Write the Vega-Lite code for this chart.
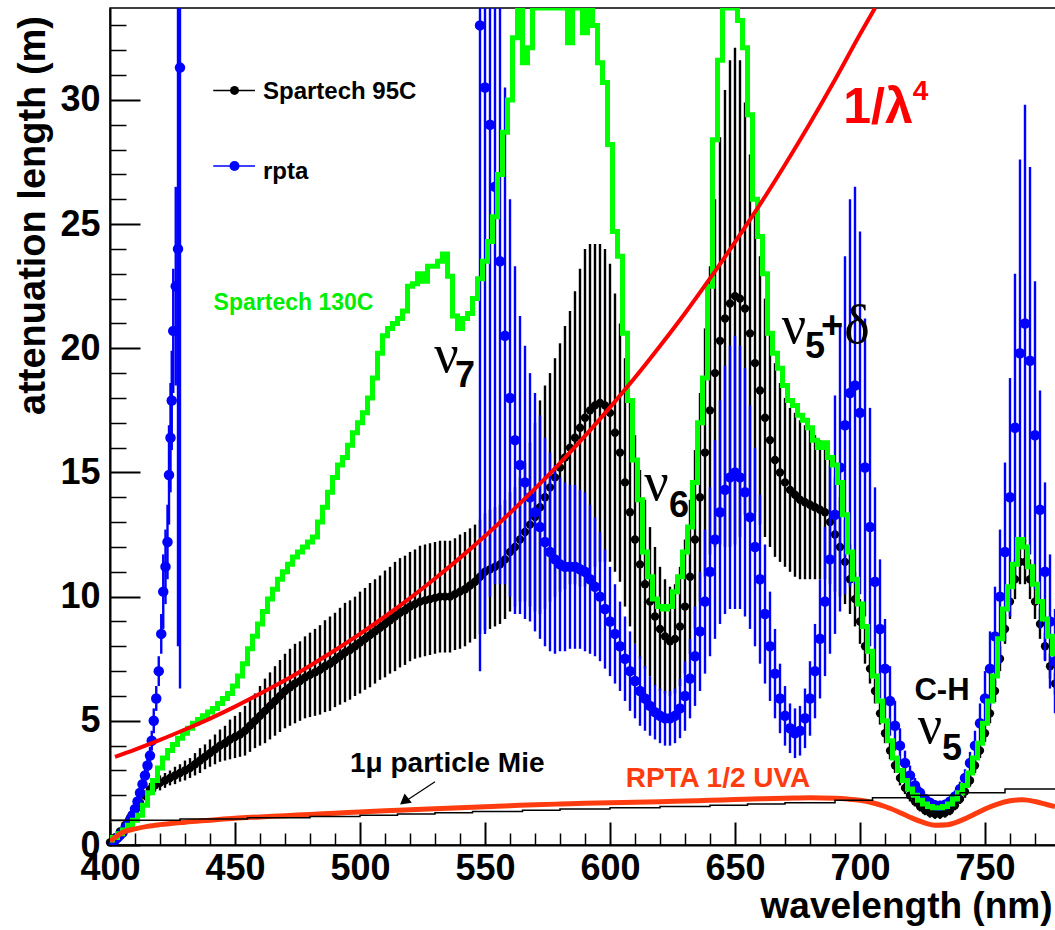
{
  "$schema": "https://vega.github.io/schema/vega-lite/v6.json",
  "width": 947,
  "height": 837,
  "autosize": {"type": "none"},
  "padding": {"left": 110, "top": 8, "right": 0, "bottom": 85},
  "background": "white",
  "config": {"view": {"stroke": "#000000", "strokeWidth": 1.5}, "font": "Liberation Sans"},
  "datasets": {
    "black": [
      {"w":400,"v":0.1,"e":0.05},{"w":402,"v":0.3,"e":0.05},{"w":404,"v":0.55,"e":0.1},{"w":406,"v":0.8,"e":0.1},{"w":408,"v":1.1,"e":0.15},{"w":410,"v":1.4,"e":0.15},
      {"w":412,"v":1.7,"e":0.2},{"w":414,"v":2.0,"e":0.2},{"w":416,"v":2.25,"e":0.25},{"w":418,"v":2.4,"e":0.25},{"w":420,"v":2.5,"e":0.3},{"w":422,"v":2.6,"e":0.3},
      {"w":424,"v":2.7,"e":0.3},{"w":426,"v":2.8,"e":0.35},{"w":428,"v":2.9,"e":0.35},{"w":430,"v":3.0,"e":0.4},{"w":432,"v":3.1,"e":0.4},{"w":434,"v":3.25,"e":0.45},
      {"w":436,"v":3.4,"e":0.5},{"w":438,"v":3.55,"e":0.5},{"w":440,"v":3.7,"e":0.55},{"w":442,"v":3.85,"e":0.6},{"w":444,"v":4.0,"e":0.65},{"w":446,"v":4.1,"e":0.7},
      {"w":448,"v":4.25,"e":0.8},{"w":450,"v":4.35,"e":0.85},{"w":452,"v":4.45,"e":0.9},{"w":454,"v":4.6,"e":1.0},{"w":456,"v":4.8,"e":1.05},{"w":458,"v":5.0,"e":1.1},
      {"w":460,"v":5.2,"e":1.2},{"w":462,"v":5.4,"e":1.3},{"w":464,"v":5.6,"e":1.35},{"w":466,"v":5.8,"e":1.4},{"w":468,"v":6.0,"e":1.45},{"w":470,"v":6.2,"e":1.5},
      {"w":472,"v":6.35,"e":1.55},{"w":474,"v":6.5,"e":1.6},{"w":476,"v":6.6,"e":1.6},{"w":478,"v":6.75,"e":1.65},{"w":480,"v":6.85,"e":1.7},{"w":482,"v":6.95,"e":1.75},
      {"w":484,"v":7.05,"e":1.8},{"w":486,"v":7.2,"e":1.85},{"w":488,"v":7.3,"e":1.9},{"w":490,"v":7.45,"e":1.9},{"w":492,"v":7.6,"e":1.95},{"w":494,"v":7.75,"e":2.0},
      {"w":496,"v":7.85,"e":2.0},{"w":498,"v":8.0,"e":2.0},{"w":500,"v":8.15,"e":2.05},{"w":502,"v":8.3,"e":2.05},{"w":504,"v":8.45,"e":2.1},{"w":506,"v":8.6,"e":2.1},
      {"w":508,"v":8.75,"e":2.1},{"w":510,"v":8.9,"e":2.15},{"w":512,"v":9.05,"e":2.15},{"w":514,"v":9.2,"e":2.2},{"w":516,"v":9.35,"e":2.2},{"w":518,"v":9.45,"e":2.2},
      {"w":520,"v":9.6,"e":2.2},{"w":522,"v":9.7,"e":2.2},{"w":524,"v":9.8,"e":2.25},{"w":526,"v":9.85,"e":2.25},{"w":528,"v":9.9,"e":2.25},{"w":530,"v":9.95,"e":2.25},
      {"w":532,"v":10.0,"e":2.25},{"w":534,"v":10.0,"e":2.25},{"w":536,"v":10.0,"e":2.25},{"w":538,"v":10.1,"e":2.25},{"w":540,"v":10.2,"e":2.3},{"w":542,"v":10.3,"e":2.3},
      {"w":544,"v":10.45,"e":2.3},{"w":546,"v":10.6,"e":2.3},{"w":548,"v":10.8,"e":2.3},{"w":550,"v":11.0,"e":2.35},{"w":552,"v":11.1,"e":2.4},{"w":554,"v":11.2,"e":2.4},
      {"w":556,"v":11.3,"e":2.4},{"w":558,"v":11.5,"e":2.4},{"w":560,"v":11.8,"e":2.4},{"w":562,"v":12.0,"e":2.4},{"w":564,"v":12.3,"e":2.5},{"w":566,"v":12.6,"e":2.8},
      {"w":568,"v":12.9,"e":3.3},{"w":570,"v":13.2,"e":3.8},{"w":572,"v":13.6,"e":4.3},{"w":574,"v":14.0,"e":4.5},{"w":576,"v":14.4,"e":4.6},{"w":578,"v":14.8,"e":4.8},
      {"w":580,"v":15.2,"e":5.0},{"w":582,"v":15.6,"e":5.3},{"w":584,"v":16.0,"e":5.5},{"w":586,"v":16.4,"e":5.9},{"w":588,"v":16.8,"e":6.4},{"w":590,"v":17.2,"e":6.8},
      {"w":592,"v":17.5,"e":6.7},{"w":594,"v":17.7,"e":6.5},{"w":596,"v":17.8,"e":6.4},{"w":598,"v":17.7,"e":6.3},{"w":600,"v":17.4,"e":6.0},{"w":602,"v":16.6,"e":5.6},
      {"w":604,"v":15.8,"e":5.2},{"w":606,"v":14.6,"e":5.0},{"w":608,"v":13.4,"e":4.6},{"w":610,"v":12.3,"e":4.2},{"w":612,"v":11.3,"e":3.8},{"w":614,"v":10.5,"e":3.4},
      {"w":616,"v":9.8,"e":3.0},{"w":618,"v":9.2,"e":2.8},{"w":620,"v":8.7,"e":2.5},{"w":622,"v":8.4,"e":2.3},{"w":624,"v":8.2,"e":2.2},{"w":626,"v":8.3,"e":2.2},
      {"w":628,"v":8.8,"e":2.4},{"w":630,"v":9.6,"e":2.7},{"w":632,"v":10.8,"e":3.1},{"w":634,"v":12.3,"e":3.6},{"w":636,"v":14.0,"e":4.2},{"w":638,"v":15.8,"e":5.0},
      {"w":640,"v":17.5,"e":5.8},{"w":642,"v":19.0,"e":7.0},{"w":644,"v":20.3,"e":8.2},{"w":646,"v":21.2,"e":9.2},{"w":648,"v":21.8,"e":9.8},{"w":650,"v":22.1,"e":10.0},
      {"w":652,"v":22.0,"e":9.6},{"w":654,"v":21.6,"e":8.3},{"w":656,"v":20.6,"e":7.2},{"w":658,"v":19.4,"e":6.0},{"w":660,"v":18.3,"e":5.4},{"w":662,"v":17.2,"e":4.8},
      {"w":664,"v":16.3,"e":4.3},{"w":666,"v":15.5,"e":3.9},{"w":668,"v":15.0,"e":3.6},{"w":670,"v":14.6,"e":3.4},{"w":672,"v":14.3,"e":3.3},{"w":674,"v":14.1,"e":3.3},
      {"w":676,"v":13.9,"e":3.2},{"w":678,"v":13.8,"e":3.1},{"w":680,"v":13.7,"e":3.0},{"w":682,"v":13.6,"e":2.9},{"w":684,"v":13.5,"e":2.8},{"w":686,"v":13.4,"e":2.7},
      {"w":688,"v":13.0,"e":2.5},{"w":690,"v":12.5,"e":2.3},{"w":692,"v":12.0,"e":2.0},{"w":694,"v":11.4,"e":1.7},{"w":696,"v":10.7,"e":1.4},{"w":698,"v":9.9,"e":1.1},
      {"w":700,"v":9.0,"e":0.9},{"w":702,"v":8.0,"e":0.7},{"w":704,"v":7.1,"e":0.6},{"w":706,"v":6.2,"e":0.5},{"w":708,"v":5.3,"e":0.45},{"w":710,"v":4.5,"e":0.4},
      {"w":712,"v":3.8,"e":0.35},{"w":714,"v":3.2,"e":0.3},{"w":716,"v":2.7,"e":0.3},{"w":718,"v":2.3,"e":0.25},{"w":720,"v":2.0,"e":0.25},{"w":722,"v":1.75,"e":0.2},
      {"w":724,"v":1.55,"e":0.2},{"w":726,"v":1.4,"e":0.2},{"w":728,"v":1.3,"e":0.2},{"w":730,"v":1.25,"e":0.2},{"w":732,"v":1.25,"e":0.2},{"w":734,"v":1.3,"e":0.2},
      {"w":736,"v":1.4,"e":0.2},{"w":738,"v":1.6,"e":0.2},{"w":740,"v":1.85,"e":0.2},{"w":742,"v":2.15,"e":0.25},{"w":744,"v":2.6,"e":0.25},{"w":746,"v":3.2,"e":0.3},
      {"w":748,"v":3.8,"e":0.3},{"w":750,"v":4.5,"e":0.35},{"w":752,"v":5.3,"e":0.4},{"w":754,"v":6.2,"e":0.45},{"w":756,"v":7.5,"e":0.5},{"w":758,"v":8.7,"e":0.6},
      {"w":760,"v":9.8,"e":0.7},{"w":762,"v":10.7,"e":0.8},{"w":764,"v":11.4,"e":0.9},{"w":766,"v":11.4,"e":0.9},{"w":768,"v":10.7,"e":0.8},{"w":770,"v":9.8,"e":0.7},
      {"w":772,"v":8.9,"e":0.6},{"w":774,"v":8.0,"e":0.55},{"w":776,"v":7.2,"e":0.5},{"w":778,"v":6.5,"e":0.45}
    ],
    "blue": [
      {"w":400,"v":0.0,"e":0.1},{"w":401,"v":0.1,"e":0.1},{"w":402,"v":0.2,"e":0.1},{"w":403,"v":0.3,"e":0.1},{"w":404,"v":0.4,"e":0.1},{"w":405,"v":0.5,"e":0.1},
      {"w":406,"v":0.65,"e":0.15},{"w":407,"v":0.8,"e":0.15},{"w":408,"v":1.0,"e":0.15},{"w":409,"v":1.2,"e":0.2},{"w":410,"v":1.45,"e":0.2},{"w":411,"v":1.75,"e":0.2},
      {"w":412,"v":2.1,"e":0.25},{"w":413,"v":2.45,"e":0.25},{"w":414,"v":2.8,"e":0.3},{"w":415,"v":3.2,"e":0.3},{"w":416,"v":3.6,"e":0.35},{"w":416.7,"v":4.2,"e":0.4},
      {"w":417.5,"v":5.0,"e":0.5},{"w":418.5,"v":5.9,"e":0.5},{"w":419.5,"v":7.0,"e":0.6},{"w":420.5,"v":8.5,"e":0.8},{"w":421.3,"v":10.2,"e":1.5},{"w":422.2,"v":11.2,"e":1.5},
      {"w":423,"v":12.2,"e":1.5},{"w":423.6,"v":14.9,"e":2.0},{"w":424.2,"v":16.4,"e":2.2},{"w":424.7,"v":17.9,"e":2.0},{"w":425.3,"v":20.7,"e":2.5},{"w":426.3,"v":22.5,"e":4},
      {"w":427.2,"v":24.0,"e":16},{"w":428,"v":31.3,"e":25},
      {"w":548,"v":33.0,"e":26},{"w":550,"v":30.5,"e":22},{"w":552,"v":29.0,"e":19},{"w":554,"v":26.5,"e":16},{"w":556,"v":23.5,"e":13},{"w":558,"v":20.5,"e":10},
      {"w":560,"v":18.0,"e":8},{"w":562,"v":16.3,"e":7},{"w":564,"v":15.3,"e":6},{"w":566,"v":14.6,"e":5.5},{"w":568,"v":14.0,"e":5},{"w":570,"v":13.4,"e":4.8},
      {"w":572,"v":12.8,"e":4.5},{"w":574,"v":12.2,"e":4.2},{"w":576,"v":11.8,"e":4},{"w":578,"v":11.5,"e":3.8},{"w":580,"v":11.3,"e":3.5},{"w":582,"v":11.2,"e":3.4},
      {"w":584,"v":11.2,"e":3.3},{"w":586,"v":11.2,"e":3.3},{"w":588,"v":11.1,"e":3.2},{"w":590,"v":11.0,"e":3.2},{"w":592,"v":10.7,"e":3.0},{"w":594,"v":10.4,"e":2.8},
      {"w":596,"v":10.0,"e":2.6},{"w":598,"v":9.5,"e":2.4},{"w":600,"v":9.0,"e":2.2},{"w":602,"v":8.5,"e":2.0},{"w":604,"v":8.0,"e":1.8},{"w":606,"v":7.5,"e":1.7},
      {"w":608,"v":7.0,"e":1.6},{"w":610,"v":6.6,"e":1.5},{"w":612,"v":6.2,"e":1.4},{"w":614,"v":5.9,"e":1.3},{"w":616,"v":5.6,"e":1.2},{"w":618,"v":5.35,"e":1.1},
      {"w":620,"v":5.2,"e":1.1},{"w":622,"v":5.1,"e":1.1},{"w":624,"v":5.1,"e":1.1},{"w":626,"v":5.2,"e":1.1},{"w":628,"v":5.5,"e":1.2},{"w":630,"v":6.0,"e":1.4},
      {"w":632,"v":6.7,"e":1.6},{"w":634,"v":7.6,"e":2.0},{"w":636,"v":8.6,"e":2.4},{"w":638,"v":9.8,"e":2.9},{"w":640,"v":11.0,"e":3.4},{"w":642,"v":12.3,"e":4},
      {"w":644,"v":13.4,"e":4.5},{"w":646,"v":14.3,"e":5},{"w":648,"v":14.8,"e":5.3},{"w":650,"v":15.0,"e":5.5},{"w":652,"v":14.8,"e":5.3},{"w":654,"v":14.2,"e":5},
      {"w":656,"v":13.2,"e":4.5},{"w":658,"v":12.0,"e":4},{"w":660,"v":10.7,"e":3.4},{"w":662,"v":9.3,"e":2.8},{"w":664,"v":8.0,"e":2.2},{"w":666,"v":6.9,"e":1.8},
      {"w":668,"v":5.9,"e":1.4},{"w":670,"v":5.2,"e":1.2},{"w":672,"v":4.7,"e":1.0},{"w":674,"v":4.5,"e":1.0},{"w":676,"v":4.6,"e":1.0},{"w":678,"v":5.1,"e":1.2},
      {"w":680,"v":5.9,"e":1.5},{"w":682,"v":7.0,"e":1.9},{"w":684,"v":8.3,"e":2.4},{"w":686,"v":9.8,"e":3.0},{"w":688,"v":11.5,"e":3.8},{"w":690,"v":13.3,"e":4.8},
      {"w":692,"v":15.2,"e":5.8},{"w":694,"v":16.9,"e":6.8},{"w":696,"v":18.2,"e":7.8},{"w":698,"v":18.5,"e":8.0},{"w":700,"v":17.4,"e":7.3},{"w":702,"v":15.2,"e":6},
      {"w":704,"v":12.8,"e":4.8},{"w":706,"v":10.6,"e":3.8},{"w":708,"v":8.7,"e":2.8},{"w":710,"v":7.1,"e":2.0},{"w":712,"v":5.8,"e":1.4},{"w":714,"v":4.8,"e":1.0},
      {"w":716,"v":4.0,"e":0.7},{"w":718,"v":3.3,"e":0.5},{"w":720,"v":2.8,"e":0.4},{"w":722,"v":2.4,"e":0.3},{"w":724,"v":2.1,"e":0.25},{"w":726,"v":1.85,"e":0.2},
      {"w":728,"v":1.7,"e":0.2},{"w":730,"v":1.6,"e":0.2},{"w":732,"v":1.58,"e":0.2},{"w":734,"v":1.62,"e":0.2},{"w":736,"v":1.75,"e":0.2},{"w":738,"v":1.95,"e":0.25},
      {"w":740,"v":2.25,"e":0.3},{"w":742,"v":2.7,"e":0.35},{"w":744,"v":3.3,"e":0.45},{"w":746,"v":4.0,"e":0.6},{"w":748,"v":4.9,"e":0.8},{"w":750,"v":5.9,"e":1.1},
      {"w":752,"v":7.1,"e":1.5},{"w":754,"v":8.4,"e":2.0},{"w":756,"v":10.0,"e":2.7},{"w":758,"v":11.8,"e":3.6},{"w":760,"v":14.0,"e":4.8},{"w":762,"v":16.8,"e":6.2},
      {"w":764,"v":19.8,"e":7.8},{"w":766,"v":21.0,"e":8.8},{"w":768,"v":19.5,"e":7.8},{"w":770,"v":16.5,"e":6.2},{"w":772,"v":13.5,"e":4.8},{"w":774,"v":11.0,"e":3.6},
      {"w":776,"v":9.0,"e":2.7},{"w":778,"v":7.4,"e":2.1}
    ],
    "green": [
      {"w":400,"v":0.2},{"w":402,"v":0.3},{"w":404,"v":0.45},{"w":406,"v":0.6},{"w":408,"v":0.8},{"w":410,"v":1.0},{"w":412,"v":1.2},{"w":414,"v":1.6},
      {"w":416,"v":2.1},{"w":418,"v":2.6},{"w":420,"v":3.1},{"w":422,"v":3.5},{"w":424,"v":3.8},{"w":426,"v":4.05},{"w":428,"v":4.3},{"w":430,"v":4.5},
      {"w":432,"v":4.7},{"w":434,"v":4.9},{"w":436,"v":5.05},{"w":438,"v":5.2},{"w":440,"v":5.35},{"w":442,"v":5.5},{"w":444,"v":5.7},{"w":446,"v":5.9},
      {"w":448,"v":6.1},{"w":450,"v":6.4},{"w":452,"v":6.8},{"w":454,"v":7.3},{"w":456,"v":7.9},{"w":458,"v":8.4},{"w":460,"v":8.9},{"w":462,"v":9.4},
      {"w":464,"v":9.9},{"w":466,"v":10.3},{"w":468,"v":10.7},{"w":470,"v":11.0},{"w":472,"v":11.3},{"w":474,"v":11.6},{"w":476,"v":11.8},{"w":478,"v":12.0},
      {"w":480,"v":12.2},{"w":482,"v":12.4},{"w":484,"v":13.0},{"w":486,"v":13.6},{"w":488,"v":14.2},{"w":490,"v":14.8},{"w":492,"v":15.3},{"w":494,"v":15.6},
      {"w":496,"v":16.1},{"w":498,"v":16.6},{"w":500,"v":17.0},{"w":502,"v":17.4},{"w":504,"v":18.0},{"w":506,"v":18.8},{"w":508,"v":19.8},{"w":510,"v":20.5},
      {"w":512,"v":20.8},{"w":514,"v":21.0},{"w":516,"v":21.2},{"w":518,"v":21.5},{"w":520,"v":22.5},{"w":522,"v":22.6},{"w":524,"v":23.0},{"w":526,"v":22.7},
      {"w":528,"v":23.3},{"w":530,"v":23.3},{"w":532,"v":23.5},{"w":534,"v":23.8},{"w":536,"v":22.9},{"w":538,"v":21.3},{"w":540,"v":20.8},{"w":542,"v":21.2},
      {"w":544,"v":21.4},{"w":546,"v":22.0},{"w":548,"v":22.8},{"w":550,"v":23.5},{"w":552,"v":24.3},{"w":554,"v":25.3},{"w":556,"v":27.0},{"w":558,"v":28.7},
      {"w":560,"v":30.0},{"w":562,"v":32.5},{"w":564,"v":35},{"w":566,"v":31.5},{"w":568,"v":32.1},{"w":570,"v":35},{"w":572,"v":35},{"w":574,"v":35},
      {"w":576,"v":35},{"w":578,"v":35},{"w":580,"v":35},{"w":582,"v":35},{"w":584,"v":32.3},{"w":586,"v":35},{"w":588,"v":35},{"w":590,"v":32.7},
      {"w":592,"v":35},{"w":594,"v":33.0},{"w":596,"v":31.5},{"w":598,"v":30.7},{"w":600,"v":28.2},{"w":602,"v":24.7},{"w":604,"v":23.7},{"w":606,"v":20.6},
      {"w":608,"v":17.9},{"w":610,"v":15.5},{"w":612,"v":13.9},{"w":614,"v":11.8},{"w":616,"v":10.8},{"w":618,"v":9.9},{"w":620,"v":9.6},{"w":622,"v":9.5},
      {"w":624,"v":9.6},{"w":626,"v":10.2},{"w":628,"v":10.8},{"w":630,"v":11.8},{"w":632,"v":12.8},{"w":634,"v":14.6},{"w":636,"v":17.0},{"w":638,"v":18.8},
      {"w":640,"v":22.5},{"w":642,"v":28.4},{"w":644,"v":31.6},{"w":646,"v":35},{"w":648,"v":35},{"w":650,"v":35},{"w":652,"v":33.2},{"w":654,"v":32.1},
      {"w":656,"v":29.4},{"w":658,"v":26.0},{"w":660,"v":24.5},{"w":662,"v":23.0},{"w":664,"v":20.6},{"w":666,"v":19.8},{"w":668,"v":19.2},{"w":670,"v":18.5},
      {"w":672,"v":17.9},{"w":674,"v":17.7},{"w":676,"v":17.3},{"w":678,"v":17.1},{"w":680,"v":16.8},{"w":682,"v":16.3},{"w":684,"v":16.0},{"w":686,"v":16.2},
      {"w":688,"v":15.6},{"w":690,"v":15.3},{"w":692,"v":14.6},{"w":694,"v":13.3},{"w":696,"v":11.8},{"w":698,"v":10.7},{"w":700,"v":9.7},{"w":702,"v":8.8},
      {"w":704,"v":7.8},{"w":706,"v":6.8},{"w":708,"v":5.8},{"w":710,"v":5.0},{"w":712,"v":4.2},{"w":714,"v":3.5},{"w":716,"v":3.0},{"w":718,"v":2.6},
      {"w":720,"v":2.25},{"w":722,"v":2.0},{"w":724,"v":1.8},{"w":726,"v":1.65},{"w":728,"v":1.55},{"w":730,"v":1.5},{"w":732,"v":1.5},{"w":734,"v":1.55},
      {"w":736,"v":1.65},{"w":738,"v":1.85},{"w":740,"v":2.1},{"w":742,"v":2.4},{"w":744,"v":2.9},{"w":746,"v":3.5},{"w":748,"v":4.1},{"w":750,"v":4.9},
      {"w":752,"v":5.8},{"w":754,"v":6.8},{"w":756,"v":8.3},{"w":758,"v":9.5},{"w":760,"v":10.4},{"w":762,"v":11.3},{"w":764,"v":12.3},{"w":766,"v":12.0},
      {"w":768,"v":11.2},{"w":770,"v":10.5},{"w":772,"v":9.8},{"w":774,"v":9.1},{"w":776,"v":8.4},{"w":778,"v":7.7}
    ],
    "red": [
      {"w":402,"v":3.55},{"w":410,"v":3.84},{"w":420,"v":4.23},{"w":430,"v":4.65},{"w":440,"v":5.09},{"w":450,"v":5.57},{"w":460,"v":6.09},{"w":470,"v":6.63},
      {"w":480,"v":7.22},{"w":490,"v":7.84},{"w":500,"v":8.5},{"w":510,"v":9.2},{"w":520,"v":9.94},{"w":530,"v":10.73},{"w":540,"v":11.56},{"w":550,"v":12.44},
      {"w":560,"v":13.37},{"w":570,"v":14.35},{"w":580,"v":15.38},{"w":590,"v":16.47},{"w":600,"v":17.62},{"w":610,"v":18.82},{"w":620,"v":20.09},{"w":630,"v":21.41},
      {"w":640,"v":22.81},{"w":650,"v":24.27},{"w":660,"v":25.79},{"w":670,"v":27.39},{"w":680,"v":29.06},{"w":690,"v":30.81},{"w":700,"v":32.64},{"w":706,"v":33.77}
    ],
    "orange": [
      {"w":400,"v":0.15},{"w":402,"v":0.3},{"w":404,"v":0.45},{"w":406,"v":0.55},{"w":410,"v":0.65},{"w":415,"v":0.75},{"w":420,"v":0.82},{"w":430,"v":0.92},
      {"w":440,"v":1.0},{"w":450,"v":1.08},{"w":460,"v":1.13},{"w":470,"v":1.18},{"w":480,"v":1.23},{"w":490,"v":1.28},{"w":500,"v":1.33},{"w":510,"v":1.38},
      {"w":520,"v":1.42},{"w":530,"v":1.46},{"w":540,"v":1.5},{"w":550,"v":1.54},{"w":560,"v":1.58},{"w":570,"v":1.62},{"w":580,"v":1.65},{"w":590,"v":1.68},
      {"w":600,"v":1.7},{"w":610,"v":1.72},{"w":620,"v":1.74},{"w":630,"v":1.77},{"w":640,"v":1.8},{"w":650,"v":1.83},{"w":660,"v":1.86},{"w":670,"v":1.88},
      {"w":680,"v":1.9},{"w":690,"v":1.88},{"w":695,"v":1.85},{"w":700,"v":1.8},{"w":705,"v":1.7},{"w":710,"v":1.55},{"w":715,"v":1.35},{"w":720,"v":1.12},
      {"w":725,"v":0.92},{"w":730,"v":0.8},{"w":735,"v":0.82},{"w":740,"v":0.97},{"w":745,"v":1.2},{"w":750,"v":1.45},{"w":755,"v":1.65},{"w":760,"v":1.78},
      {"w":765,"v":1.82},{"w":770,"v":1.75},{"w":775,"v":1.62},{"w":778,"v":1.55}
    ],
    "mie": [
      {"w":400,"v":1.0},{"w":428,"v":1.05},{"w":455,"v":1.1},{"w":480,"v":1.15},{"w":500,"v":1.2},{"w":515,"v":1.25},{"w":530,"v":1.3},{"w":545,"v":1.35},
      {"w":565,"v":1.4},{"w":580,"v":1.45},{"w":600,"v":1.5},{"w":620,"v":1.55},{"w":640,"v":1.6},{"w":655,"v":1.65},{"w":670,"v":1.7},{"w":690,"v":1.8},
      {"w":705,"v":1.9},{"w":720,"v":2.0},{"w":740,"v":2.1},{"w":758,"v":2.25},{"w":778.8,"v":2.3}
    ]
  },
  "layer": [
    {
      "data": {"name": "black"},
      "mark": {"type": "errorbar", "color": "#000000", "thickness": 2.4},
      "encoding": {
        "x": {"field": "w", "type": "quantitative", "scale": {"domain": [400, 778.8], "nice": false, "zero": false},
          "axis": {"orient": "bottom", "values": [400,450,500,550,600,650,700,750], "ticks": false, "domainColor": "#000", "domainWidth": 2,
            "labelFont": "Liberation Sans", "labelFontWeight": "bold", "labelFontSize": 36, "labelColor": "#000", "labelPadding": 6, "labelFlush": false, "labelOverlap": false, "grid": false,
            "title": "wavelength (nm)", "titleFont": "Liberation Sans", "titleFontWeight": "bold", "titleFontSize": 37, "titleColor": "#000", "titleAlign": "right", "titleBaseline": "alphabetic", "titleX": 942, "titleY": 72}},
        "y": {"field": "v", "type": "quantitative", "scale": {"domain": [0, 33.7], "nice": false, "zero": false, "clamp": true},
          "axis": {"orient": "left", "values": [0,5,10,15,20,25,30], "ticks": false, "domainColor": "#000", "domainWidth": 2,
            "labelFont": "Liberation Sans", "labelFontWeight": "bold", "labelFontSize": 36, "labelColor": "#000", "labelPadding": 10, "labelFlush": false, "labelOverlap": false, "grid": false,
            "title": "attenuation length (m)", "titleFont": "Liberation Sans", "titleFontWeight": "bold", "titleFontSize": 38, "titleColor": "#000", "titleAngle": -90, "titleAlign": "center", "titleBaseline": "alphabetic", "titleX": -66, "titleY": 207}},
        "yError": {"field": "e"}
      }
    },
    {
      "data": {"name": "black"},
      "mark": {"type": "circle", "color": "#000000", "size": 70, "opacity": 1},
      "encoding": {
        "x": {"field": "w", "type": "quantitative", "scale": {"domain": [400, 778.8], "nice": false, "zero": false},
          "axis": {"orient": "top", "offset": -837, "values": [400,450,500,550,600,650,700,750], "tickSize": 23, "tickWidth": 2, "tickColor": "#000", "domain": false, "labels": false, "grid": false, "title": null}},
        "y": {"field": "v", "type": "quantitative", "scale": {"domain": [0, 33.7], "nice": false, "zero": false, "clamp": true},
          "axis": {"orient": "right", "offset": -947, "values": [0,5,10,15,20,25,30], "tickSize": 30, "tickWidth": 2, "tickColor": "#000", "domain": false, "labels": false, "grid": false, "title": null}}
      }
    },
    {
      "data": {"name": "blue"},
      "mark": {"type": "errorbar", "color": "#0000ff", "thickness": 2.4},
      "encoding": {
        "x": {"field": "w", "type": "quantitative", "scale": {"domain": [400, 778.8], "nice": false, "zero": false},
          "axis": {"orient": "top", "offset": -837, "values": [410,420,430,440,460,470,480,490,510,520,530,540,560,570,580,590,610,620,630,640,660,670,680,690,710,720,730,740,760,770], "tickSize": 12, "tickWidth": 1.5, "tickColor": "#000", "domain": false, "labels": false, "grid": false, "title": null}},
        "y": {"field": "v", "type": "quantitative", "scale": {"domain": [0, 33.7], "nice": false, "zero": false, "clamp": true},
          "axis": {"orient": "right", "offset": -947, "values": [1,2,3,4,6,7,8,9,11,12,13,14,16,17,18,19,21,22,23,24,26,27,28,29,31,32,33], "tickSize": 16, "tickWidth": 1.5, "tickColor": "#000", "domain": false, "labels": false, "grid": false, "title": null}},
        "yError": {"field": "e"}
      }
    },
    {
      "data": {"name": "blue"},
      "mark": {"type": "circle", "color": "#0000ff", "size": 110, "opacity": 1, "clip": true},
      "encoding": {
        "x": {"field": "w", "type": "quantitative", "scale": {"domain": [400, 778.8], "nice": false, "zero": false}, "axis": null},
        "y": {"field": "v", "type": "quantitative", "scale": {"domain": [0, 33.7], "nice": false, "zero": false, "clamp": true}, "axis": null}
      }
    },
    {
      "data": {"name": "green"},
      "mark": {"type": "line", "color": "#00ff00", "strokeWidth": 5, "interpolate": "step", "clip": true},
      "encoding": {
        "x": {"field": "w", "type": "quantitative", "scale": {"domain": [400, 778.8], "nice": false, "zero": false}, "axis": null},
        "y": {"field": "v", "type": "quantitative", "scale": {"domain": [0, 33.7], "nice": false, "zero": false, "clamp": true}, "axis": null}
      }
    },
    {
      "data": {"name": "orange"},
      "mark": {"type": "line", "color": "#ff3c0f", "strokeWidth": 5, "interpolate": "monotone", "clip": true},
      "encoding": {
        "x": {"field": "w", "type": "quantitative", "scale": {"domain": [400, 778.8], "nice": false, "zero": false}, "axis": null},
        "y": {"field": "v", "type": "quantitative", "scale": {"domain": [0, 33.7], "nice": false, "zero": false, "clamp": true}, "axis": null}
      }
    },
    {
      "data": {"name": "mie"},
      "mark": {"type": "line", "color": "#000000", "strokeWidth": 1.5, "interpolate": "step-after", "clip": true},
      "encoding": {
        "x": {"field": "w", "type": "quantitative", "scale": {"domain": [400, 778.8], "nice": false, "zero": false}, "axis": null},
        "y": {"field": "v", "type": "quantitative", "scale": {"domain": [0, 33.7], "nice": false, "zero": false, "clamp": true}, "axis": null}
      }
    },
    {
      "data": {"name": "red"},
      "mark": {"type": "line", "color": "#ff0000", "strokeWidth": 4, "interpolate": "monotone", "clip": true},
      "encoding": {
        "x": {"field": "w", "type": "quantitative", "scale": {"domain": [400, 778.8], "nice": false, "zero": false}, "axis": null},
        "y": {"field": "v", "type": "quantitative", "scale": {"domain": [0, 33.7], "nice": false, "zero": false, "clamp": true}, "axis": null}
      }
    },
    {
      "data": {"values": [{"w": 441.3, "w2": 458, "v": 30.38}]},
      "mark": {"type": "rule", "color": "#000000", "strokeWidth": 1.5},
      "encoding": {
        "x": {"field": "w", "type": "quantitative", "scale": {"domain": [400, 778.8], "nice": false, "zero": false}, "axis": null},
        "x2": {"field": "w2"},
        "y": {"field": "v", "type": "quantitative", "scale": {"domain": [0, 33.7], "nice": false, "zero": false, "clamp": true}, "axis": null}
      }
    },
    {
      "data": {"values": [{"w": 441.3, "w2": 458, "v": 27.34}]},
      "mark": {"type": "rule", "color": "#0000ff", "strokeWidth": 1.5},
      "encoding": {
        "x": {"field": "w", "type": "quantitative", "scale": {"domain": [400, 778.8], "nice": false, "zero": false}, "axis": null},
        "x2": {"field": "w2"},
        "y": {"field": "v", "type": "quantitative", "scale": {"domain": [0, 33.7], "nice": false, "zero": false, "clamp": true}, "axis": null}
      }
    },
    {
      "data": {"values": [{"w": 449.8, "v": 30.38}]},
      "mark": {"type": "circle", "color": "#000000", "size": 80, "opacity": 1},
      "encoding": {
        "x": {"field": "w", "type": "quantitative", "scale": {"domain": [400, 778.8], "nice": false, "zero": false}, "axis": null},
        "y": {"field": "v", "type": "quantitative", "scale": {"domain": [0, 33.7], "nice": false, "zero": false, "clamp": true}, "axis": null}
      }
    },
    {
      "data": {"values": [{"w": 449.8, "v": 27.34}]},
      "mark": {"type": "circle", "color": "#0000ff", "size": 100, "opacity": 1},
      "encoding": {
        "x": {"field": "w", "type": "quantitative", "scale": {"domain": [400, 778.8], "nice": false, "zero": false}, "axis": null},
        "y": {"field": "v", "type": "quantitative", "scale": {"domain": [0, 33.7], "nice": false, "zero": false, "clamp": true}, "axis": null}
      }
    },
    {
      "data": {"values": [{"w": 461.2, "v": 30.04, "t": "Spartech 95C"}, {"w": 461.2, "v": 26.8, "t": "rpta"}]},
      "mark": {"type": "text", "font": "Liberation Sans", "fontWeight": "bold", "fontSize": 24, "color": "#000000", "align": "left", "baseline": "alphabetic"},
      "encoding": {
        "x": {"field": "w", "type": "quantitative", "scale": {"domain": [400, 778.8], "nice": false, "zero": false}, "axis": null},
        "y": {"field": "v", "type": "quantitative", "scale": {"domain": [0, 33.7], "nice": false, "zero": false, "clamp": true}, "axis": null},
        "text": {"field": "t"}
      }
    },
    {
      "data": {"values": [{"w": 473.4, "v": 21.53, "t": "Spartech 130C"}]},
      "mark": {"type": "text", "font": "Liberation Sans", "fontWeight": "bold", "fontSize": 23, "color": "#00ee00", "align": "center", "baseline": "alphabetic"},
      "encoding": {
        "x": {"field": "w", "type": "quantitative", "scale": {"domain": [400, 778.8], "nice": false, "zero": false}, "axis": null},
        "y": {"field": "v", "type": "quantitative", "scale": {"domain": [0, 33.7], "nice": false, "zero": false, "clamp": true}, "axis": null},
        "text": {"field": "t"}
      }
    },
    {
      "data": {"values": [{"w": 643.2, "v": 2.33, "t": "RPTA 1/2 UVA"}]},
      "mark": {"type": "text", "font": "Liberation Sans", "fontWeight": "bold", "fontSize": 28, "color": "#ff3c0f", "align": "center", "baseline": "alphabetic"},
      "encoding": {
        "x": {"field": "w", "type": "quantitative", "scale": {"domain": [400, 778.8], "nice": false, "zero": false}, "axis": null},
        "y": {"field": "v", "type": "quantitative", "scale": {"domain": [0, 33.7], "nice": false, "zero": false, "clamp": true}, "axis": null},
        "text": {"field": "t"}
      }
    },
    {
      "data": {"values": [{"w": 496, "v": 2.94, "t": "1μ particle Mie"}]},
      "mark": {"type": "text", "font": "Liberation Sans", "fontWeight": "bold", "fontSize": 28, "color": "#000000", "align": "left", "baseline": "alphabetic"},
      "encoding": {
        "x": {"field": "w", "type": "quantitative", "scale": {"domain": [400, 778.8], "nice": false, "zero": false}, "axis": null},
        "y": {"field": "v", "type": "quantitative", "scale": {"domain": [0, 33.7], "nice": false, "zero": false, "clamp": true}, "axis": null},
        "text": {"field": "t"}
      }
    },
    {
      "data": {"values": [{"w": 530, "v": 2.55, "w2": 518, "v2": 1.75}]},
      "mark": {"type": "rule", "color": "#000000", "strokeWidth": 1.2},
      "encoding": {
        "x": {"field": "w", "type": "quantitative", "scale": {"domain": [400, 778.8], "nice": false, "zero": false}, "axis": null},
        "y": {"field": "v", "type": "quantitative", "scale": {"domain": [0, 33.7], "nice": false, "zero": false, "clamp": true}, "axis": null},
        "x2": {"field": "w2"},
        "y2": {"field": "v2"}
      }
    },
    {
      "data": {"values": [{"w": 518.2, "v": 1.8}]},
      "mark": {"type": "point", "shape": "triangle", "filled": true, "color": "#000000", "size": 140, "angle": 232, "opacity": 1},
      "encoding": {
        "x": {"field": "w", "type": "quantitative", "scale": {"domain": [400, 778.8], "nice": false, "zero": false}, "axis": null},
        "y": {"field": "v", "type": "quantitative", "scale": {"domain": [0, 33.7], "nice": false, "zero": false, "clamp": true}, "axis": null}
      }
    },
    {
      "data": {"values": [{"w": 534.6, "v": 19.03, "t": "ν"}, {"w": 618.6, "v": 13.88, "t": "ν"}, {"w": 673.6, "v": 20.2, "t": "ν"}, {"w": 698.8, "v": 20.2, "t": "δ"}, {"w": 728, "v": 4.1, "t": "ν"}]},
      "mark": {"type": "text", "font": "Liberation Serif", "fontSize": 54, "color": "#000000", "align": "center", "baseline": "alphabetic"},
      "encoding": {
        "x": {"field": "w", "type": "quantitative", "scale": {"domain": [400, 778.8], "nice": false, "zero": false}, "axis": null},
        "y": {"field": "v", "type": "quantitative", "scale": {"domain": [0, 33.7], "nice": false, "zero": false, "clamp": true}, "axis": null},
        "text": {"field": "t"}
      }
    },
    {
      "data": {"values": [{"w": 542, "v": 18.43, "t": "7"}, {"w": 627.6, "v": 13.2, "t": "6"}, {"w": 682, "v": 19.6, "t": "5"}, {"w": 736.8, "v": 3.42, "t": "5"}]},
      "mark": {"type": "text", "font": "Liberation Sans", "fontWeight": "bold", "fontSize": 36, "color": "#000000", "align": "center", "baseline": "alphabetic"},
      "encoding": {
        "x": {"field": "w", "type": "quantitative", "scale": {"domain": [400, 778.8], "nice": false, "zero": false}, "axis": null},
        "y": {"field": "v", "type": "quantitative", "scale": {"domain": [0, 33.7], "nice": false, "zero": false, "clamp": true}, "axis": null},
        "text": {"field": "t"}
      }
    },
    {
      "data": {"values": [{"w": 688.8, "v": 20.85, "t": "+"}]},
      "mark": {"type": "text", "font": "Liberation Sans", "fontWeight": "bold", "fontSize": 38, "color": "#000000", "align": "center", "baseline": "middle"},
      "encoding": {
        "x": {"field": "w", "type": "quantitative", "scale": {"domain": [400, 778.8], "nice": false, "zero": false}, "axis": null},
        "y": {"field": "v", "type": "quantitative", "scale": {"domain": [0, 33.7], "nice": false, "zero": false, "clamp": true}, "axis": null},
        "text": {"field": "t"}
      }
    },
    {
      "data": {"values": [{"w": 732.8, "v": 5.83, "t": "C-H"}]},
      "mark": {"type": "text", "font": "Liberation Sans", "fontWeight": "bold", "fontSize": 31, "color": "#000000", "align": "center", "baseline": "alphabetic"},
      "encoding": {
        "x": {"field": "w", "type": "quantitative", "scale": {"domain": [400, 778.8], "nice": false, "zero": false}, "axis": null},
        "y": {"field": "v", "type": "quantitative", "scale": {"domain": [0, 33.7], "nice": false, "zero": false, "clamp": true}, "axis": null},
        "text": {"field": "t"}
      }
    },
    {
      "data": {"values": [{"w": 707.2, "v": 29.05, "t": "1/λ"}]},
      "mark": {"type": "text", "font": "Liberation Sans", "fontWeight": "bold", "fontSize": 50, "color": "#ff0000", "align": "center", "baseline": "alphabetic"},
      "encoding": {
        "x": {"field": "w", "type": "quantitative", "scale": {"domain": [400, 778.8], "nice": false, "zero": false}, "axis": null},
        "y": {"field": "v", "type": "quantitative", "scale": {"domain": [0, 33.7], "nice": false, "zero": false, "clamp": true}, "axis": null},
        "text": {"field": "t"}
      }
    },
    {
      "data": {"values": [{"w": 724.2, "v": 29.98, "t": "4"}]},
      "mark": {"type": "text", "font": "Liberation Sans", "fontWeight": "bold", "fontSize": 28, "color": "#ff0000", "align": "center", "baseline": "alphabetic"},
      "encoding": {
        "x": {"field": "w", "type": "quantitative", "scale": {"domain": [400, 778.8], "nice": false, "zero": false}, "axis": null},
        "y": {"field": "v", "type": "quantitative", "scale": {"domain": [0, 33.7], "nice": false, "zero": false, "clamp": true}, "axis": null},
        "text": {"field": "t"}
      }
    }
  ],
  "resolve": {"axis": {"x": "independent", "y": "independent"}}
}
